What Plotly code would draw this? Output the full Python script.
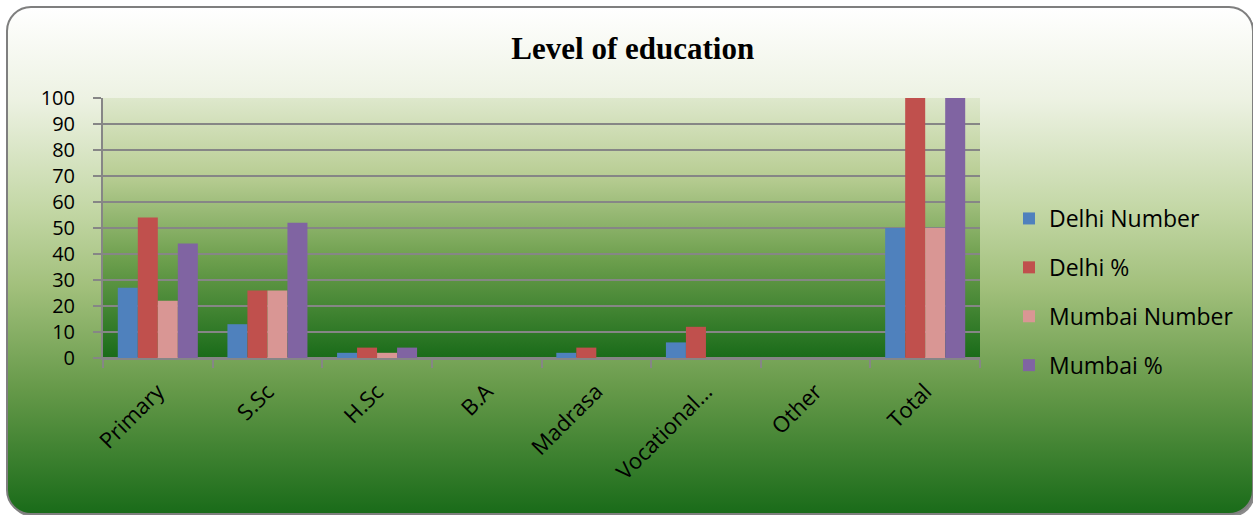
import base64
import plotly.graph_objects as go

categories = ["Primary", "S.Sc", "H.Sc", "B.A", "Madrasa", "Vocational...", "Other", "Total"]
delhi_number = [27, 13, 2, 0, 2, 6, 0, 50]
delhi_pct = [54, 26, 4, 0, 4, 12, 0, 100]
mumbai_number = [22, 26, 2, 0, 0, 0, 0, 50]
mumbai_pct = [44, 52, 4, 0, 0, 0, 0, 100]

series = [
    ("Delhi Number", delhi_number, "#4f81bd"),
    ("Delhi %", delhi_pct, "#c0504d"),
    ("Mumbai Number", mumbai_number, "#d99694"),
    ("Mumbai %", mumbai_pct, "#8064a2"),
]

W, H = 1253, 515
L, R, T, B = 103, 273, 98, 157
PW, PH = W - L - R, H - T - B

outer_svg = f'''<svg xmlns="http://www.w3.org/2000/svg" width="{W}" height="{H}" viewBox="0 0 {W} {H}" preserveAspectRatio="none">
<defs>
<linearGradient id="g" x1="0" y1="0" x2="0" y2="1">
<stop offset="0" stop-color="#ffffff"/>
<stop offset="0.18" stop-color="#edf2e3"/>
<stop offset="0.4" stop-color="#c3d7a5"/>
<stop offset="0.55" stop-color="#a2c07c"/>
<stop offset="0.75" stop-color="#679a4a"/>
<stop offset="1" stop-color="#196b19"/>
</linearGradient>
</defs>
<rect x="9" y="9" width="1246" height="508" rx="24" ry="24" fill="#8a8a8a"/>
<rect x="7" y="7" width="1246" height="507" rx="24" ry="24" fill="url(#g)" stroke="#7f7f7f" stroke-width="2"/>
</svg>'''

plot_svg = '''<svg xmlns="http://www.w3.org/2000/svg" width="100" height="100" viewBox="0 0 100 100" preserveAspectRatio="none">
<defs>
<linearGradient id="p" x1="0" y1="0" x2="0" y2="1">
<stop offset="0" stop-color="#dee8cc"/>
<stop offset="0.3" stop-color="#b8cd93"/>
<stop offset="0.62" stop-color="#6d9f4d"/>
<stop offset="1" stop-color="#196b19"/>
</linearGradient>
</defs>
<rect x="0" y="0" width="100" height="100" fill="url(#p)"/>
</svg>'''


def uri(svg):
    return "data:image/svg+xml;base64," + base64.b64encode(svg.encode()).decode()


fig = go.Figure()
for i, (name, vals, color) in enumerate(series):
    fig.add_trace(go.Bar(
        x=categories, y=vals, name=name, marker_color=color,
        marker_line_width=0, legendgroup=f"g{i}",
    ))

FONT = "Open Sans, Carlito, Calibri, sans-serif"

fig.update_layout(
    width=W, height=H,
    margin=dict(l=L, r=R, t=T, b=B, pad=0),
    paper_bgcolor="rgba(0,0,0,0)",
    plot_bgcolor="rgba(0,0,0,0)",
    barmode="group", bargap=0.27, bargroupgap=0,
    title=dict(text="<b>Level of education</b>", x=0.505, xanchor="center",
               y=1 - 48 / H, yanchor="middle",
               font=dict(family="Liberation Serif, Times New Roman, serif", size=31, color="#000000")),
    font=dict(family=FONT, size=22, color="#000000"),
    legend=dict(x=1 + 29 / PW, xanchor="left", y=1 - (292 - T) / PH, yanchor="middle",
                traceorder="grouped", tracegroupgap=16,
                font=dict(size=23, family=FONT), bgcolor="rgba(0,0,0,0)",
                itemwidth=30),
    showlegend=True,
    images=[
        dict(source=uri(outer_svg), xref="paper", yref="paper",
             x=-L / PW, y=1 + T / PH, sizex=W / PW, sizey=H / PH,
             xanchor="left", yanchor="top", sizing="stretch", layer="below"),
        dict(source=uri(plot_svg), xref="paper", yref="paper",
             x=0, y=1, sizex=1, sizey=1,
             xanchor="left", yanchor="top", sizing="stretch", layer="below"),
    ],
)

fig.update_xaxes(
    type="category", tickangle=-45, tickson="boundaries",
    ticks="outside", ticklen=8, tickcolor="#868686", tickwidth=2,
    showline=True, linecolor="#868686", linewidth=2,
    showgrid=False, tickfont=dict(size=22, family=FONT),
    ticklabelstandoff=10,
)
fig.update_yaxes(
    range=[0, 100], dtick=10, tick0=0,
    ticks="outside", ticklen=8, tickcolor="#868686", tickwidth=2,
    showline=True, linecolor="#868686", linewidth=2,
    showgrid=True, gridcolor="#868686", gridwidth=2,
    zeroline=True, zerolinecolor="#868686", zerolinewidth=2,
    tickfont=dict(size=20, family=FONT), ticklabelstandoff=14,
)

fig.write_html("out.html", config={"displayModeBar": False},
               post_script="document.body.style.margin='0';document.body.style.overflow='hidden';")
